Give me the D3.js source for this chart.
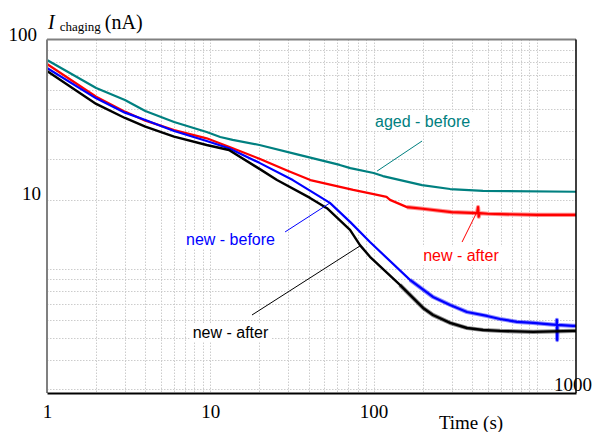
<!DOCTYPE html>
<html>
<head>
<meta charset="utf-8">
<script src="https://cdn.jsdelivr.net/npm/d3@7"></script>
<style>
  body { margin: 0; background: #fff; }
  svg { display: block; }
</style>
</head>
<body>
<div id="chart"></div>
<script>
// values: time (s) -> charging current (nA)
const agedBeforeTime    = [1, 2, 3, 4, 6, 9.5, 11.5, 13.7, 20, 35, 62, 72, 100, 114, 198, 294, 468, 1735]
const agedBeforeCurrent = [81.4, 61.5, 54.5, 48.8, 43.7, 39.5, 37.6, 36.5, 34.7, 31.4, 28.4, 27.5, 26.2, 25.4, 23.2, 22.3, 21.9, 21.7]

const newAfterRedTime    = [1, 2, 3, 4, 6, 9.5, 13, 20, 30, 41, 75, 100, 120, 126, 160, 200, 300, 430, 436, 440, 445, 500, 1000, 1735]
const newAfterRedCurrent = [78.2, 56.3, 48.5, 44.3, 40.3, 37.1, 34.1, 30.2, 26.7, 24.4, 22.1, 21.2, 20.6, 20.0, 18.6, 18.3, 17.7, 17.5, 18.6, 16.9, 17.5, 17.4, 17.2, 17.2]

const newBeforeTime    = [1, 2, 3, 4, 6, 9.5, 13, 20, 32, 54, 72, 95, 167, 231, 294, 373, 495, 594, 755, 947, 1203, 1320, 1325, 1330, 1335, 1663, 1735]
const newBeforeCurrent = [75.1, 55.4, 48.0, 44.6, 39.9, 36.1, 33.6, 29.0, 24.4, 19.4, 16.0, 13.1, 8.96, 7.55, 6.97, 6.49, 6.24, 6.05, 5.88, 5.82, 5.73, 5.70, 6.0, 4.9, 5.70, 5.65, 5.65]

const newAfterBlackTime    = [1, 2, 3, 4, 6, 9.5, 13, 20, 25.6, 40.8, 51.8, 71.7, 82.5, 95, 145, 201, 231, 294, 373, 468, 594, 947, 1663, 1735]
const newAfterBlackCurrent = [72.9, 52.4, 45.5, 41.7, 37.7, 34.7, 33.0, 27.3, 24.4, 20.4, 18.4, 14.8, 12.7, 11.3, 8.52, 6.76, 6.30, 5.82, 5.53, 5.42, 5.37, 5.32, 5.37, 5.37]

const seriesNames = ["aged - before", "new - after", "new - before", "new - after"]
const xTickValues = [1, 10, 100]

const width = 598
const height = 432
const plot = {left: 47, right: 576, top: 39.5, bottom: 393}

const svg = d3.select("#chart")
    .append("svg")
    .attr("width", width)
    .attr("height", height)

const x = d3.scaleLog().domain([1, 1735]).range([plot.left, plot.right])
const y = d3.scaleLog().domain([2.88, 100]).range([plot.bottom, plot.top])

// dotted grid at every 1..9 x decade
const xGrid = []
;[1, 10, 100, 1000].forEach(d => d3.range(1, 10).forEach(k => {
    const v = d * k
    if (v > 1 && v < 1735) xGrid.push(v)
}))
const yGrid = []
;[1, 10].forEach(d => d3.range(1, 10).forEach(k => {
    const v = d * k
    if (v > 2.88 && v < 100) yGrid.push(v)
}))

const grid = svg.append("g").attr("id", "grid")
    .attr("stroke", "#cccccc")
    .attr("stroke-width", 1)
    .attr("stroke-dasharray", "1.5,1.5")
grid.selectAll("line.vx").data(xGrid).enter().append("line")
    .attr("x1", d => Math.round(x(d)) + 0.5).attr("x2", d => Math.round(x(d)) + 0.5)
    .attr("y1", plot.top).attr("y2", plot.bottom)
grid.selectAll("line.hy").data(yGrid).enter().append("line")
    .attr("y1", d => Math.round(y(d)) + 0.5).attr("y2", d => Math.round(y(d)) + 0.5)
    .attr("x1", plot.left).attr("x2", plot.right)

// curves; the measured tails are noisy, drawn as a wider soft band
const series = [
    {time: agedBeforeTime, current: agedBeforeCurrent, color: "#008080", w: 2.2, noisyFrom: null},
    {time: newAfterRedTime, current: newAfterRedCurrent, color: "#ff0000", w: 2.2, noisyFrom: 140},
    {time: newBeforeTime, current: newBeforeCurrent, color: "#0000ff", w: 2.2, noisyFrom: 160},
    {time: newAfterBlackTime, current: newAfterBlackCurrent, color: "#000000", w: 2.4, noisyFrom: 120}
]
const line = d3.line()
    .x(d => x(d[0]))
    .y(d => y(d[1]))

const elementGroup = svg.append("g").attr("id", "elementGroup")
series.forEach(s => {
    const pts = s.time.map((t, i) => [t, s.current[i]])
    if (s.noisyFrom) {
        elementGroup.append("path")
            .datum(pts.filter(p => p[0] >= s.noisyFrom))
            .attr("fill", "none")
            .attr("stroke", s.color)
            .attr("stroke-opacity", 0.45)
            .attr("stroke-width", 4.2)
            .attr("stroke-linejoin", "round")
            .attr("d", line)
    }
    elementGroup.append("path")
        .datum(pts)
        .attr("fill", "none")
        .attr("stroke", s.color)
        .attr("stroke-width", s.w)
        .attr("stroke-linejoin", "round")
        .attr("d", line)
})

// frame
svg.append("line").attr("x1", plot.left).attr("x2", plot.right).attr("y1", plot.top).attr("y2", plot.top)
    .attr("stroke", "#808080").attr("stroke-width", 2)
svg.append("line").attr("x1", plot.left).attr("x2", plot.left).attr("y1", plot.top).attr("y2", plot.bottom)
    .attr("stroke", "#808080").attr("stroke-width", 2)
svg.append("line").attr("x1", plot.right).attr("x2", plot.right).attr("y1", plot.top).attr("y2", plot.bottom)
    .attr("stroke", "#000").attr("stroke-width", 1.5)

const serif = "Liberation Serif, Times New Roman, serif"

const xAxis = d3.axisBottom(x).tickValues(xTickValues).tickSize(0).tickPadding(12).tickFormat(d3.format("d"))
const xAxisGroup = svg.append("g")
    .attr("transform", `translate(0, ${plot.bottom})`)
    .call(xAxis)
xAxisGroup.select(".domain").attr("stroke", "#000").attr("stroke-width", 2)
xAxisGroup.selectAll("text")
    .attr("font-family", serif)
    .attr("font-size", 19)
    .attr("fill", "#000")

// tick labels that sit as free text in the original
svg.append("text").attr("x", 573).attr("y", 391).attr("text-anchor", "middle")
    .attr("font-family", serif).attr("font-size", 19).text("1000")
svg.append("text").attr("x", 37).attr("y", 41).attr("text-anchor", "end")
    .attr("font-family", serif).attr("font-size", 19).text("100")
svg.append("text").attr("x", 41).attr("y", 200).attr("text-anchor", "end")
    .attr("font-family", serif).attr("font-size", 19).text("10")

svg.append("text").attr("x", 471).attr("y", 429).attr("text-anchor", "middle")
    .attr("font-family", serif).attr("font-size", 19).text("Time (s)")

const yTitle = svg.append("text").attr("x", 48).attr("y", 29)
    .attr("font-family", serif).attr("font-size", 20)
yTitle.append("tspan").attr("font-style", "italic").text("I")
yTitle.append("tspan").attr("font-size", 13).attr("dx", 5).attr("dy", 2).text("chaging")
yTitle.append("tspan").attr("dx", 4).attr("dy", -2).text("(nA)")

// labels with leader lines, anchored in data units
const labels = [
    {text: seriesNames[0], color: "#008080", at: [102, 41.6], from: [198, 36.1], to: [105, 26.7]},
    {text: seriesNames[1], color: "#ff0000", at: [201, 10.8], from: [348, 13.1], to: [424, 17.4]},
    {text: seriesNames[2], color: "#0000ff", at: [7.1, 12.7], from: [28.7, 14.5], to: [54.1, 19.4]},
    {text: seriesNames[3], color: "#000000", at: [7.8, 5.0], from: [18.0, 6.30], to: [82.5, 12.6]}
]
const labelGroup = svg.append("g").attr("id", "labels")
labels.forEach(l => {
    labelGroup.append("line")
        .attr("x1", x(l.from[0])).attr("y1", y(l.from[1]))
        .attr("x2", x(l.to[0])).attr("y2", y(l.to[1]))
        .attr("stroke", l.color).attr("stroke-width", 1)
    const bg = labelGroup.append("rect").attr("fill", "#fff")
    const t = labelGroup.append("text")
        .attr("x", x(l.at[0])).attr("y", y(l.at[1]))
        .attr("font-family", "Liberation Sans, Arial, sans-serif")
        .attr("font-size", 16)
        .attr("fill", l.color)
        .text(l.text)
    const b = t.node().getBBox()
    bg.attr("x", b.x - 3).attr("y", b.y - 1).attr("width", b.width + 6).attr("height", b.height + 2)
})
</script>
</body>
</html>
